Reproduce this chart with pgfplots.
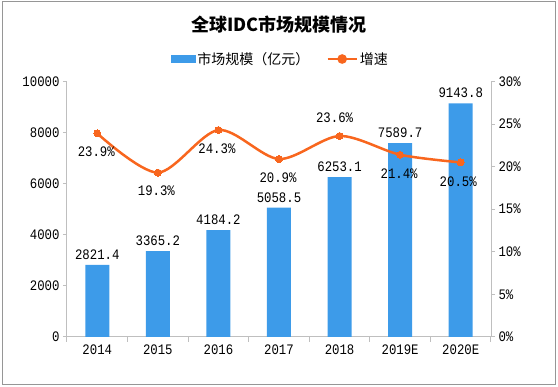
\documentclass[border=0pt]{standalone}
\usepackage{pgfplots}
\pgfplotsset{compat=1.18}
\usepackage{fontspec}
\setmainfont{Noto Sans CJK SC}
\newfontfamily\numfont[FakeStretch=0.85]{Liberation Mono}
\definecolor{barblue}{RGB}{61,155,233}
\definecolor{lineorange}{RGB}{248,102,30}
\definecolor{axgray}{RGB}{191,191,191}
\definecolor{framegray}{RGB}{150,150,150}

\pgfplotstableread{
x y
0 2821.4
1 3365.2
2 4184.2
3 5058.5
4 6253.1
5 7589.7
6 9143.8
}\bardata

\pgfplotstableread{
x y dx dy
0 23.9 -1 -18.5
1 19.3 -1.5 -18.5
2 24.3 -1.5 -19
3 20.9 -1 -18.5
4 23.6 -5 18
5 21.4 -1 -19
6 20.5 -2.5 -19
}\growdata

\newcommand{\nf}{\numfont\fontsize{14.5}{16}\selectfont}

\begin{document}
\begin{tikzpicture}[x=1pt,y=1pt]
\useasboundingbox (0,0) rectangle (558,387);
\draw[framegray, line width=1pt] (2,2) rectangle (555.5,385);
\node[font=\fontsize{18}{20}\selectfont\bfseries] at (279,362) {全球IDC市场规模情况};

\begin{axis}[
  at={(67pt,50pt)}, anchor=south west,
  scale only axis, width=424pt, height=255.5pt,
  xmin=-0.5, xmax=6.5, ymin=0, ymax=10000,
  axis y line*=left, axis x line*=bottom,
  axis line style={axgray, line width=1pt},
  tick align=outside,
  xtick={0,...,6},
  xticklabels={2014,2015,2016,2017,2018,2019E,2020E},
  major x tick style={draw=none},
  minor xtick={-0.5,0.5,1.5,2.5,3.5,4.5,5.5,6.5},
  minor x tick style={axgray, line width=1pt},
  minor tick length=5pt,
  ytick={0,2000,4000,6000,8000,10000},
  scaled y ticks=false,
  major tick length=4pt,
  y tick style={axgray, line width=1pt},
  /pgf/number format/assume math mode=true,
  /pgf/number format/1000 sep={},
  yticklabel={\pgfmathprintnumber[fixed,precision=0,1000 sep={},assume math mode=true]{\tick}},
  tick label style={font=\nf, black},
  ybar, bar width=24pt,
  clip=false,
]
\addplot[fill=barblue, draw=none,
  nodes near coords={\pgfmathprintnumber[fixed,fixed zerofill,precision=1,1000 sep={},assume math mode=true]{\pgfplotspointmeta}},
  nodes near coords style={font=\nf, black, anchor=south, yshift=2pt}]
  table[x=x,y=y] {\bardata};
\end{axis}

\begin{axis}[
  at={(67pt,50pt)}, anchor=south west,
  scale only axis, width=424pt, height=255.5pt,
  xmin=-0.5, xmax=6.5, ymin=0, ymax=30,
  axis x line=none, axis y line*=right,
  axis line style={axgray, line width=1pt},
  tick align=outside,
  ytick={0,5,...,30},
  major tick length=4pt,
  y tick style={axgray, line width=1pt},
  /pgf/number format/assume math mode=true,
  yticklabel={\pgfmathprintnumber{\tick}\%},
  tick label style={font=\nf, black},
  clip=false,
  legend style={at={(0.5035,1.088)}, anchor=center, draw=none, fill=none,
    legend columns=2, font=\fontsize{14}{16}\selectfont,
    /tikz/every even column/.append style={column sep=15pt}},
]
\addlegendimage{legend image code/.code={\fill[barblue] (0pt,-3.5pt) rectangle (24pt,3.5pt);}}
\addlegendentry{市场规模（亿元）}
\addplot[lineorange, line width=2.5pt, smooth,
  mark=*, mark size=3.5pt, mark options={fill=lineorange, draw=lineorange, line width=0pt},
  point meta=y,
  visualization depends on={\thisrow{dx} \as \dx},
  visualization depends on={\thisrow{dy} \as \dy},
  nodes near coords={\pgfmathprintnumber[fixed,fixed zerofill,precision=1,assume math mode=true]{\pgfplotspointmeta}\%},
  nodes near coords style={font=\nf, black, anchor=center, xshift=\dx, yshift=\dy},
  legend image code/.code={\draw[lineorange, line width=2.5pt] (0pt,0pt)--(29pt,0pt); \fill[lineorange] (14.5pt,0pt) circle (3.5pt);}]
  table[x=x,y=y] {\growdata};
\addlegendentry{增速}
\end{axis}
\end{tikzpicture}
\end{document}
